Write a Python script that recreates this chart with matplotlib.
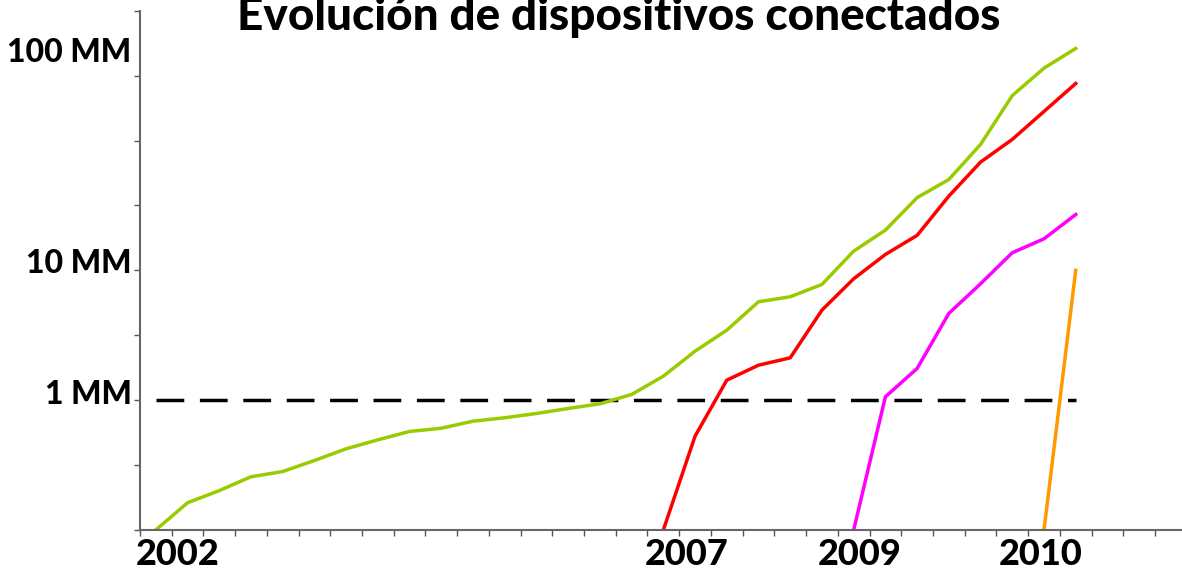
import matplotlib
matplotlib.use('Agg')
import matplotlib.pyplot as plt
import numpy as np
from matplotlib.ticker import FixedLocator, NullFormatter

plt.rcParams['font.family'] = ['Lato', 'DejaVu Sans']
plt.rcParams['font.weight'] = 'black'

# Devices in millions (MM), one value per period (index on x)
green = [0.1, 0.162, 0.201, 0.257, 0.282, 0.343, 0.422, 0.495, 0.574, 0.608,
         0.689, 0.732, 0.790, 0.863, 0.938, 1.106, 1.53, 2.385, 3.46, 5.73,
         6.26, 7.79, 14.06, 20.4, 36.3, 50.1, 93.3, 222, 361, 512]
red_start = 16
red = [0.1, 0.528, 1.426, 1.86, 2.12, 4.94, 8.61, 13.26, 18.6, 37.3,
       68.2, 102, 167.5, 275]
magenta_start = 22
magenta = [0.1, 1.062, 1.755, 4.66, 7.88, 13.67, 17.5, 26.9]
orange_start = 28
orange = [0.1, 10.0]

threshold = 1.0  # 1 MM reference line

title = 'Evolución de dispositivos conectados'
year_labels = ['2002', '2007', '2009', '2010']
year_pos = [0.7, 16.75, 22.2, 27.9]
y_labels = ['1 MM', '10 MM', '100 MM']
y_label_pos = [1.15, 11.9, 500]

fig = plt.figure(figsize=(11.82, 5.71), dpi=100)
ax = fig.add_axes([139.9 / 1182, 41 / 571, (1182 - 139.9) / 1182, 519.3 / 571])

lw = 2.5
ax.plot([0, len(green) - 1], [threshold, threshold], color='black', lw=2.5,
        dashes=(8, 4.5))
ax.plot(np.arange(len(green)), green, color='#99cc00', lw=lw)
ax.plot(np.arange(len(red)) + red_start, red, color='#ff0000', lw=lw)
ax.plot(np.arange(len(magenta)) + magenta_start, magenta, color='#ff00ff', lw=lw)
ax.plot(np.arange(len(orange)) + orange_start, orange, color='#ff9900', lw=lw)

ax.set_yscale('log')
ax.set_ylim(0.1, 1000)
ax.set_xlim(-0.5, 32.35)

# labels on major ticks (no marks), marks on minor ticks
ax.yaxis.set_major_locator(FixedLocator(y_label_pos))
ax.set_yticklabels(y_labels)
ax.yaxis.set_minor_locator(FixedLocator(10 ** np.arange(-1, 3.01, 0.5)))
ax.yaxis.set_minor_formatter(NullFormatter())
ax.xaxis.set_major_locator(FixedLocator(year_pos))
ax.set_xticklabels(year_labels)
ax.xaxis.set_minor_locator(FixedLocator(np.arange(-0.5, 32, 1)))

ax.tick_params(which='major', length=0)
ax.tick_params(axis='y', which='major', pad=6, labelsize=23)
ax.tick_params(axis='x', which='major', pad=6, labelsize=26)
ax.tick_params(which='minor', length=4.5, width=1, color='#555555')

for s in ['top', 'right']:
    ax.spines[s].set_visible(False)
for s in ['left', 'bottom']:
    ax.spines[s].set_color('#666666')
    ax.spines[s].set_linewidth(1.5)

fig.text(619 / 1182, 1 - 30 / 571, title, ha='center', va='baseline',
         fontsize=33, fontweight='black')

fig.savefig('out.png', dpi=100)
